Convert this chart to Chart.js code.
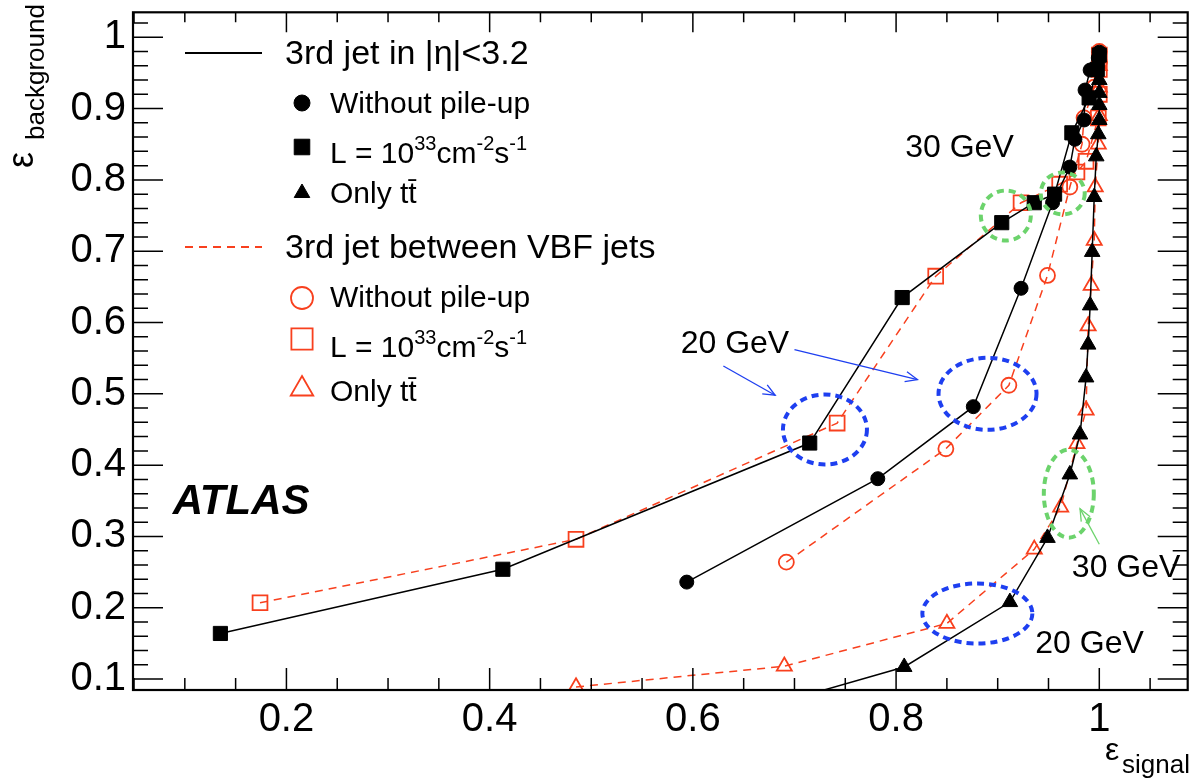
<!DOCTYPE html>
<html>
<head>
<meta charset="utf-8">
<title>Central jet veto efficiency</title>
<script src="https://cdn.jsdelivr.net/npm/chart.js@4.4.0/dist/chart.umd.min.js"></script>
<style>
  html, body { margin: 0; padding: 0; background: #fff; }
  #wrap { width: 1200px; height: 782px; }
</style>
</head>
<body>
<div id="wrap"><canvas id="roc"></canvas></div>
<script>
// tick labels
const xTicks = [0.2, 0.4, 0.6, 0.8, 1];
const yTicks = [0.1, 0.2, 0.3, 0.4, 0.5, 0.6, 0.7, 0.8, 0.9, 1];

// 3rd jet in |eta|<3.2  (black, solid)  [eff signal, eff background]
const etaNoPileup = [[0.594,0.236],[0.782,0.381],[0.876,0.482],[0.923,0.648],[0.954,0.768],[0.971,0.818],
  [0.976,0.857],[0.985,0.884],[0.986,0.926],[0.991,0.954],[0.999,0.971],[1.0,0.979]];
const etaLumi = [[0.135,0.164],[0.413,0.254],[0.715,0.431],[0.806,0.635],[0.904,0.740],[0.936,0.768],
  [0.956,0.780],[0.973,0.866],[0.990,0.915],[0.998,0.955],[1.0,0.975]];
const etaTtbar = [[0.62,0.04],[0.808,0.117],[0.912,0.208],[0.949,0.298],[0.971,0.387],[0.981,0.443],
  [0.987,0.523],[0.989,0.569],[0.991,0.624],[0.993,0.699],[0.995,0.776],[0.997,0.833],[0.999,0.864],
  [1.0,0.884],[1.0,0.905],[1.0,0.922],[1.0,0.94]];

// 3rd jet between VBF jets  (red, dashed)
const vbfNoPileup = [[0.692,0.264],[0.849,0.423],[0.911,0.512],[0.949,0.666],[0.971,0.790],[0.983,0.850],
  [0.985,0.887],[0.995,0.93],[1.0,0.965],[1.0,0.98]];
const vbfLumi = [[0.174,0.207],[0.485,0.296],[0.742,0.459],[0.839,0.665],[0.923,0.768],[0.961,0.794],
  [0.978,0.811],[0.987,0.826],[0.999,0.887],[1.0,0.92],[1.0,0.955],[1.0,0.975]];
const vbfTtbar = [[0.485,0.089],[0.690,0.118],[0.850,0.178],[0.936,0.282],[0.962,0.341],[0.978,0.430],
  [0.987,0.477],[0.989,0.595],[0.992,0.652],[0.995,0.715],[0.996,0.790],[0.999,0.85],[1.0,0.89],
  [1.0,0.93],[1.0,0.96]];

const FONT = "'Liberation Sans', Arial, Helvetica, sans-serif";
const RED = '#f8401e';
const BLUE = '#1e3ff0';
const GREEN = '#6cd36c';

// annotations, positions in data units
const ellipses = [
  { x: 0.730, y: 0.450, rx: 42, ry: 35, color: BLUE },
  { x: 0.890, y: 0.500, rx: 49, ry: 36, color: BLUE },
  { x: 0.880, y: 0.192, rx: 55, ry: 30, color: BLUE },
  { x: 0.908, y: 0.750, rx: 25, ry: 25, color: GREEN },
  { x: 0.964, y: 0.781, rx: 22, ry: 21, color: GREEN },
  { x: 0.970, y: 0.360, rx: 25, ry: 44, color: GREEN }
];
const arrows = [
  { from: [0.630, 0.539], to: [0.681, 0.498], color: BLUE },
  { from: [0.700, 0.562], to: [0.821, 0.520], color: BLUE },
  { from: [1.000, 0.289], to: [0.981, 0.339], color: GREEN }
];
const notes = [
  { text: '30 GeV', x: 0.809, y: 0.845 },
  { text: '20 GeV', x: 0.588, y: 0.570 },
  { text: '30 GeV', x: 0.973, y: 0.256 },
  { text: '20 GeV', x: 0.937, y: 0.149 }
];

const toXY = arr => arr.map(p => ({ x: p[0], y: p[1] }));

function blackSet(label, data, style, r) {
  return {
    label, data: toXY(data), showLine: true,
    borderColor: '#000', borderWidth: 1.5,
    pointStyle: style, pointRadius: r, pointHoverRadius: r,
    pointBackgroundColor: '#000', pointBorderColor: '#000', pointBorderWidth: 1
  };
}
function redSet(label, data, style, r) {
  return {
    label, data: toXY(data), showLine: true,
    borderColor: RED, borderWidth: 1.5, borderDash: [8, 6],
    pointStyle: style, pointRadius: r, pointHoverRadius: r,
    pointBackgroundColor: 'rgba(0,0,0,0)', pointBorderColor: RED, pointBorderWidth: 1.8
  };
}

function richText(ctx, parts, x, y, size) {
  parts.forEach(p => {
    const s = p.sup ? Math.round(size * 0.66) : size;
    ctx.font = s + 'px ' + FONT;
    ctx.fillText(p.t, x, p.sup ? y - size * 0.45 : y);
    x += ctx.measureText(p.t).width;
  });
}

function marker(ctx, style, r, x, y, filled, color) {
  ctx.save();
  ctx.fillStyle = filled ? color : 'rgba(0,0,0,0)';
  ctx.strokeStyle = color;
  ctx.lineWidth = filled ? 1 : 1.8;
  Chart.helpers.drawPoint(ctx, { pointStyle: style, radius: r, rotation: 0, borderWidth: ctx.lineWidth }, x, y);
  ctx.restore();
}

const lumiText = [{ t: 'L = 10' }, { t: '33', sup: true }, { t: 'cm' }, { t: '-2', sup: true }, { t: 's' }, { t: '-1', sup: true }];

const frame = {
  id: 'frame',
  afterDatasetsDraw(chart) {
    const { ctx, chartArea: a, scales: { x, y } } = chart;
    ctx.save();
    ctx.strokeStyle = '#000';
    ctx.lineWidth = 1.5;
    ctx.beginPath();
    // x ticks, every 0.05, major at labels
    for (let i = 1; i * 0.05 <= x.max; i++) {
      const v = i * 0.05;
      if (v < x.min) continue;
      const px = x.getPixelForValue(v);
      const major = i % 4 === 0;
      ctx.moveTo(px, a.bottom); ctx.lineTo(px, a.bottom - (major ? 22 : 12));
      ctx.moveTo(px, a.top); ctx.lineTo(px, a.top + (major ? 20 : 10));
    }
    // y ticks, every 0.02
    for (let i = 5; i * 0.02 <= y.max; i++) {
      const py = y.getPixelForValue(i * 0.02);
      const major = i % 5 === 0;
      ctx.moveTo(a.left, py); ctx.lineTo(a.left + (major ? 30 : 15), py);
      ctx.moveTo(a.right, py); ctx.lineTo(a.right - (major ? 30 : 15), py);
    }
    ctx.stroke();
    ctx.lineWidth = 2.2;
    ctx.strokeRect(a.left, a.top, a.right - a.left, a.bottom - a.top);
    ctx.restore();
  }
};

const extras = {
  id: 'extras',
  afterDraw(chart) {
    const { ctx, scales: { x, y } } = chart;
    ctx.save();

    // dashed ellipses
    ellipses.forEach(e => {
      ctx.strokeStyle = e.color;
      ctx.lineWidth = 4;
      ctx.setLineDash([7, 5]);
      ctx.beginPath();
      ctx.ellipse(x.getPixelForValue(e.x), y.getPixelForValue(e.y), e.rx, e.ry, 0, 0, Math.PI * 2);
      ctx.stroke();
    });
    ctx.setLineDash([]);

    // arrows
    arrows.forEach(ar => {
      const x0 = x.getPixelForValue(ar.from[0]), y0 = y.getPixelForValue(ar.from[1]);
      const x1 = x.getPixelForValue(ar.to[0]), y1 = y.getPixelForValue(ar.to[1]);
      ctx.strokeStyle = ar.color;
      ctx.lineWidth = 1.3;
      ctx.beginPath(); ctx.moveTo(x0, y0); ctx.lineTo(x1, y1); ctx.stroke();
      const ang = Math.atan2(y1 - y0, x1 - x0), h = 13, w = 0.4;
      ctx.beginPath();
      ctx.moveTo(x1 - h * Math.cos(ang - w), y1 - h * Math.sin(ang - w));
      ctx.lineTo(x1, y1);
      ctx.lineTo(x1 - h * Math.cos(ang + w), y1 - h * Math.sin(ang + w));
      ctx.stroke();
    });

    // notes
    ctx.fillStyle = '#000';
    ctx.textBaseline = 'middle';
    ctx.font = '32px ' + FONT;
    notes.forEach(n => ctx.fillText(n.text, x.getPixelForValue(n.x), y.getPixelForValue(n.y)));

    ctx.font = 'italic bold 42px ' + FONT;
    ctx.textBaseline = 'alphabetic';
    ctx.fillText('ATLAS', x.getPixelForValue(0.088), y.getPixelForValue(0.331));

    // legend
    ctx.strokeStyle = '#000';
    ctx.lineWidth = 2;
    ctx.beginPath(); ctx.moveTo(185, 53); ctx.lineTo(262, 53); ctx.stroke();
    ctx.font = '34px ' + FONT;
    ctx.fillText('3rd jet in |\u03b7|<3.2', 285, 64);
    marker(ctx, 'circle', 8, 302, 103, true, '#000');
    marker(ctx, 'rect', 11, 302, 147, true, '#000');
    marker(ctx, 'triangle', 9, 302, 193, true, '#000');
    ctx.font = '30px ' + FONT;
    ctx.fillText('Without pile-up', 330, 113);
    richText(ctx, lumiText, 330, 163, 30);
    ctx.font = '30px ' + FONT;
    ctx.fillText('Only tt\u0304', 330, 203);

    ctx.strokeStyle = RED;
    ctx.setLineDash([8, 6]);
    ctx.beginPath(); ctx.moveTo(185, 247); ctx.lineTo(262, 247); ctx.stroke();
    ctx.setLineDash([]);
    ctx.font = '34px ' + FONT;
    ctx.fillText('3rd jet between VBF jets', 285, 258);
    marker(ctx, 'circle', 11, 302, 298, false, RED);
    marker(ctx, 'rect', 15, 302, 339, false, RED);
    marker(ctx, 'triangle', 13, 302, 389, false, RED);
    ctx.font = '30px ' + FONT;
    ctx.fillText('Without pile-up', 330, 307);
    richText(ctx, lumiText, 330, 357, 30);
    ctx.font = '30px ' + FONT;
    ctx.fillText('Only tt\u0304', 330, 401);

    // axis titles
    ctx.font = '32px ' + FONT;
    ctx.fillText('\u03b5', 1105, 760);
    ctx.font = '26px ' + FONT;
    ctx.fillText('signal', 1122, 773);

    ctx.translate(33, 168);
    ctx.rotate(-Math.PI / 2);
    ctx.font = '36px ' + FONT;
    ctx.fillText('\u03b5', 0, 0);
    ctx.font = '26px ' + FONT;
    ctx.fillText('background', 28, 11);

    ctx.restore();
  }
};

new Chart(document.getElementById('roc'), {
  type: 'scatter',
  data: {
    datasets: [
      blackSet('Without pile-up', etaNoPileup, 'circle', 7),
      blackSet('L = 10^33', etaLumi, 'rect', 10),
      Object.assign(blackSet('Only ttbar', etaTtbar, 'triangle', 9), { clip: 0 }),
      redSet('Without pile-up (VBF)', vbfNoPileup, 'circle', 7.5),
      redSet('L = 10^33 (VBF)', vbfLumi, 'rect', 10.5),
      redSet('Only ttbar (VBF)', vbfTtbar, 'triangle', 8.7)
    ]
  },
  options: {
    responsive: true,
    maintainAspectRatio: false,
    animation: false,
    layout: { padding: { top: 7, right: 9, left: 0, bottom: 0 } },
    plugins: { legend: { display: false }, tooltip: { enabled: false } },
    scales: {
      x: {
        type: 'linear', min: 0.049, max: 1.087,
        afterBuildTicks: s => { s.ticks = xTicks.map(v => ({ value: v })); },
        afterFit: s => { s.height = 92; s.paddingLeft = 0; s.paddingRight = 0; },
        grid: { display: false, drawTicks: false },
        border: { display: false },
        ticks: { padding: 6, color: '#000', font: { family: FONT, size: 40 }, maxRotation: 0, callback: v => String(v) }
      },
      y: {
        type: 'linear', min: 0.0847, max: 1.035,
        afterBuildTicks: s => { s.ticks = yTicks.map(v => ({ value: v })); },
        afterFit: s => { s.width = 133; s.paddingTop = 0; s.paddingBottom = 0; },
        grid: { display: false, drawTicks: false },
        border: { display: false },
        ticks: { padding: 7, color: '#000', font: { family: FONT, size: 40 }, callback: v => String(v) }
      }
    }
  },
  plugins: [frame, extras]
});
</script>
</body>
</html>
